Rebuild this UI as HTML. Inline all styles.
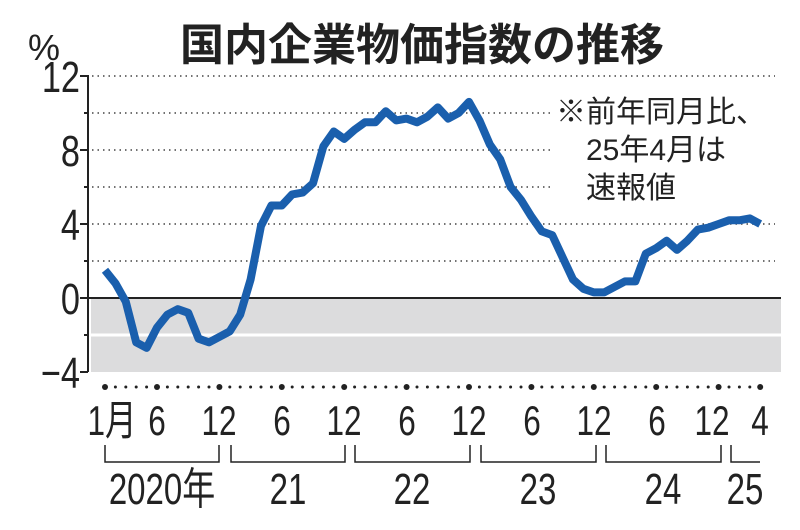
<!DOCTYPE html>
<html><head><meta charset="utf-8">
<style>html,body{margin:0;padding:0;background:#fff}svg{display:block}
text{font-family:"Liberation Sans","Noto Sans CJK JP",sans-serif;fill:#222}</style></head>
<body>
<svg id="s" width="800" height="530" viewBox="0 0 800 530" xmlns="http://www.w3.org/2000/svg">
<text x="422" y="60" font-size="44" font-weight="bold" text-anchor="middle" style="font-family:'Noto Sans CJK JP',sans-serif">国内企業物価指数の推移</text>
<text x="28" y="60" font-size="36">%</text>
<rect x="91" y="298" width="690" height="74" fill="#dcdcdd"/>
<line x1="91" y1="335" x2="781" y2="335" stroke="#fff" stroke-width="3"/>
<g stroke="#444" stroke-width="1.6" stroke-dasharray="1.5 4">
<line x1="92" y1="76" x2="775" y2="76"/>
<line x1="92" y1="113" x2="775" y2="113"/>
<line x1="92" y1="150" x2="775" y2="150"/>
<line x1="92" y1="187" x2="775" y2="187"/>
<line x1="92" y1="224" x2="775" y2="224"/>
<line x1="92" y1="261" x2="775" y2="261"/>
</g>
<rect x="553" y="90" width="222" height="116" fill="#fff"/>
<line x1="88" y1="298" x2="781" y2="298" stroke="#222" stroke-width="2"/>
<g stroke="#222" stroke-width="2" fill="none">
<line x1="88" y1="75" x2="88" y2="372"/>
<line x1="80" y1="76" x2="88" y2="76"/><line x1="80" y1="150" x2="88" y2="150"/>
<line x1="80" y1="224" x2="88" y2="224"/><line x1="80" y1="298" x2="88" y2="298"/>
<line x1="80" y1="372" x2="88" y2="372"/>
<line x1="84" y1="113" x2="88" y2="113"/><line x1="84" y1="187" x2="88" y2="187"/>
<line x1="84" y1="261" x2="88" y2="261"/><line x1="84" y1="335" x2="88" y2="335"/>
</g>
<g font-size="44" text-anchor="end">
<text transform="translate(80,92) scale(0.78,1)">12</text>
<text transform="translate(80,166) scale(0.78,1)">8</text>
<text transform="translate(80,240) scale(0.78,1)">4</text>
<text transform="translate(80,314) scale(0.78,1)">0</text>
<text transform="translate(80,388) scale(0.78,1)">−4</text>
</g>
<g font-size="30">
<text x="556" y="122">※前年同月比、</text>
<text x="586" y="160">25年4月は</text>
<text x="586" y="198">速報値</text>
</g>
<polyline id="ln" fill="none" stroke="#1a5fad" stroke-width="8" stroke-linejoin="round" stroke-linecap="butt" points=""/>
<g id="dots" fill="#222"></g>
<g font-size="42" text-anchor="middle">
<text transform="translate(112,435) scale(0.75,1)">1月</text>
<text transform="translate(157,435) scale(0.75,1)">6</text>
<text transform="translate(219,435) scale(0.75,1)">12</text>
<text transform="translate(282,435) scale(0.75,1)">6</text>
<text transform="translate(344,435) scale(0.75,1)">12</text>
<text transform="translate(407,435) scale(0.75,1)">6</text>
<text transform="translate(469,435) scale(0.75,1)">12</text>
<text transform="translate(532,435) scale(0.75,1)">6</text>
<text transform="translate(594,435) scale(0.75,1)">12</text>
<text transform="translate(657,435) scale(0.75,1)">6</text>
<text transform="translate(712,435) scale(0.75,1)">12</text>
<text transform="translate(760,435) scale(0.75,1)">4</text>
</g>
<g stroke="#222" stroke-width="1.5" fill="none">
<polyline points="105,445 105,462 219,462 219,445"/>
<polyline points="231,445 231,462 345,462 345,445"/>
<polyline points="355,445 355,462 470,462 470,445"/>
<polyline points="481,445 481,462 596,462 596,445"/>
<polyline points="606,445 606,462 721,462 721,445"/>
<polyline points="731,445 731,462 760,462"/>
</g>
<g font-size="44" text-anchor="middle">
<text transform="translate(162,504) scale(0.75,1)">2020年</text>
<text transform="translate(288,504) scale(0.75,1)">21</text>
<text transform="translate(412,504) scale(0.75,1)">22</text>
<text transform="translate(538,504) scale(0.75,1)">23</text>
<text transform="translate(663,504) scale(0.75,1)">24</text>
<text transform="translate(745,504) scale(0.75,1)">25</text>
</g>
</svg>
<script>
var d=[1.5,0.8,-0.2,-2.4,-2.7,-1.6,-0.9,-0.6,-0.8,-2.2,-2.4,-2.1,
-1.8,-0.9,1.0,3.9,5.0,5.0,5.6,5.7,6.2,8.2,9.0,8.6,
9.1,9.5,9.5,10.1,9.6,9.7,9.5,9.8,10.3,9.7,10.0,10.6,
9.6,8.3,7.5,6.0,5.3,4.4,3.6,3.4,2.2,1.0,0.5,0.3,
0.3,0.6,0.9,0.9,2.4,2.7,3.1,2.6,3.1,3.7,3.8,4.0,
4.2,4.2,4.3,4.0];
var p=d.map(function(v,i){return (105+i*10.4).toFixed(1)+","+(298-v*18.5).toFixed(1)}).join(" ");
document.getElementById("ln").setAttribute("points",p);
var g=document.getElementById("dots"),h="";
for(var i=0;i<64;i++){var big=(i==0||i%12==5||i%12==11||i==63);
h+='<circle cx="'+(105+i*10.4)+'" cy="387" r="'+(big?3:1.5)+'"/>';}
g.innerHTML=h;
</script>
</body></html>
